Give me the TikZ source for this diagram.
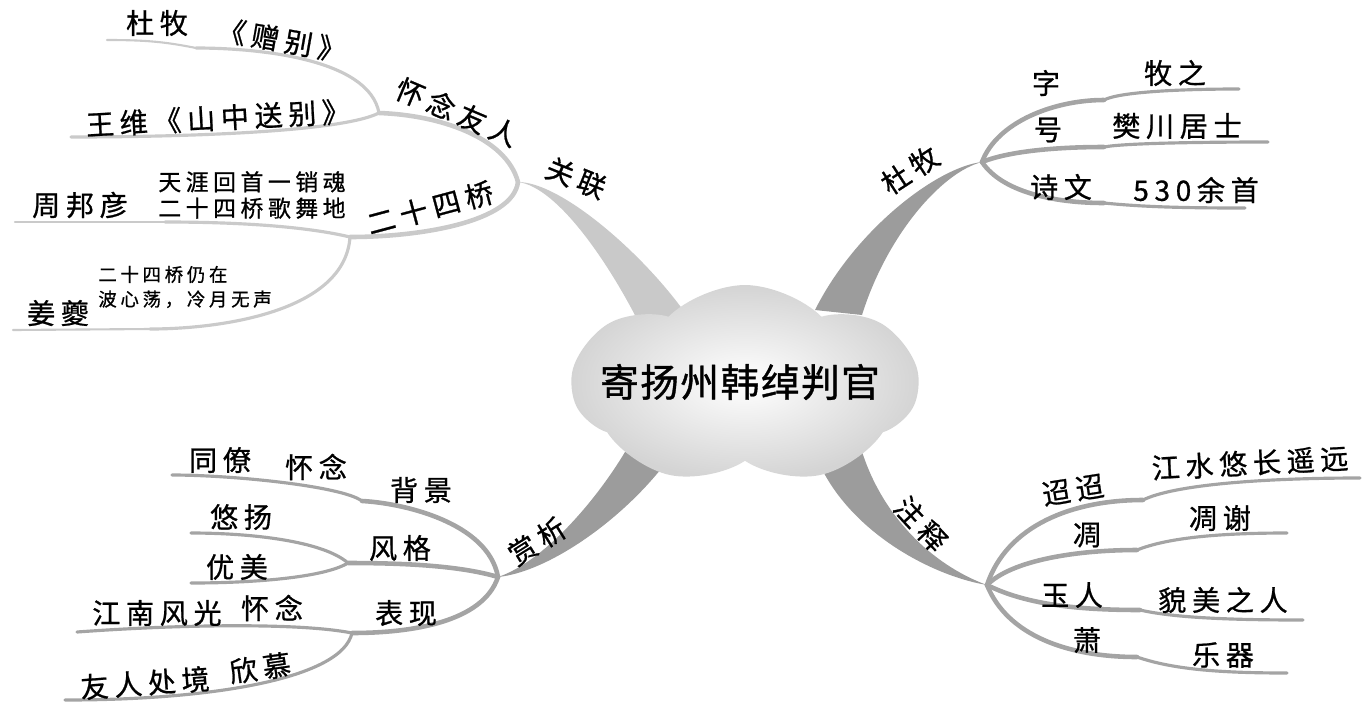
\documentclass[tikz,border=0pt]{standalone}
\usepackage{fontspec}
\setmainfont{Noto Sans CJK SC}[LetterSpace=20, FakeBold=0.8]
\newfontfamily\titlefont{Noto Sans CJK SC}[LetterSpace=4, FakeBold=1]
\usetikzlibrary{shapes.symbols}
\definecolor{paleline}{HTML}{CACACA}
\definecolor{midline}{HTML}{A4A4A4}
\definecolor{palearm}{HTML}{C9C9C9}
\definecolor{darkarm}{HTML}{9C9C9C}

\begin{document}
\begin{tikzpicture}[x=0.02cm, y=-0.02cm,
    every node/.style={font=\fontsize{16}{18}\selectfont, inner sep=0pt},
    small/.style={font=\fontsize{13}{15}\selectfont, align=center},
    tiny/.style={font=\fontsize{10.5}{14}\selectfont, align=left},
    twig/.style={draw=midline, line width=2.6pt, line cap=round},
    sprig/.style={draw=midline, line width=1.8pt, line cap=round},
    wisp/.style={draw=midline, line width=1.2pt, line cap=round},
    cloudbox/.style={shape=cloud, cloud puffs=7, cloud puff arc=90, aspect=1.8,
      minimum width=6.9cm, minimum height=4cm, shade, shading=radial,
      inner color=white, outer color=black!17},
    titletext/.style={font=\titlefont\fontsize{22}{24}\selectfont}]
  \useasboundingbox (0,0) rectangle (1363,704);
  \coordinate (G) at (518,182);
  \coordinate (H1) at (379,113);
  \coordinate (Z1) at (196,48);
  \coordinate (E1) at (107,40);
  \coordinate (E2) at (71,137);
  \coordinate (H2) at (350,237);
  \coordinate (K3) at (165,222);
  \coordinate (E3) at (15,222);
  \coordinate (K4) at (150,329);
  \coordinate (E4) at (13,330);
  \coordinate (D) at (982,162);
  \coordinate (K5) at (1104,100);
  \coordinate (E5) at (1239,89);
  \coordinate (K6) at (1104,147);
  \coordinate (E6) at (1268,142);
  \coordinate (K7) at (1104,203);
  \coordinate (E7) at (1245,208);
  \coordinate (S) at (498,577);
  \coordinate (K8) at (362,501);
  \coordinate (E8) at (172,475);
  \coordinate (F) at (348,563);
  \coordinate (E9) at (191,533);
  \coordinate (E10) at (191,583);
  \coordinate (B) at (352,633);
  \coordinate (E11) at (77,632);
  \coordinate (E12) at (65,700);
  \coordinate (N) at (987,585);
  \coordinate (K13) at (1143,500);
  \coordinate (E13) at (1360,478);
  \coordinate (K14) at (1137,550);
  \coordinate (E14) at (1287,533);
  \coordinate (K15) at (1140,610);
  \coordinate (E15) at (1303,620);
  \coordinate (K16) at (1137,657);
  \coordinate (E16) at (1287,673);

  \fill[palearm] (G) .. controls +(45,0) and +(-40,-60) .. (690,320)
    -- (640,325) .. controls +(-30,-60) and +(40,5) .. (G);
  \fill[darkarm] (D) .. controls +(-45,5) and +(40,-80) .. (815,310)
    -- (862,315) .. controls +(25,-80) and +(-40,10) .. (D);
  \fill[darkarm] (S) .. controls +(45,-15) and +(-30,50) .. (625,452)
    -- (668,460) .. controls +(-45,60) and +(50,-5) .. (S);
  \fill[darkarm] (812,445) .. controls +(25,80) and +(-60,-10) .. (N)
    .. controls +(-55,-20) and +(20,70) .. (860,445) -- cycle;

  \draw[twig, draw=paleline] (G) .. controls +(-12,-45) and +(60,2) .. (H1);
  \draw[sprig, draw=paleline] (H1) .. controls +(-10,-55) and +(60,0) .. (Z1);
  \draw[wisp, draw=paleline] (Z1) .. controls +(-30,-6) and +(40,0) .. (E1);
  \draw[sprig, draw=paleline] (H1) .. controls +(-40,20) and +(100,0) .. (E2);
  \draw[twig, draw=paleline] (G) .. controls +(-5,40) and +(70,0) .. (H2);
  \draw[sprig, draw=paleline] (H2) .. controls +(-50,-12) and +(60,0) .. (K3);
  \draw[wisp, draw=paleline] (K3) -- (E3);
  \draw[sprig, draw=paleline] (H2) .. controls +(-5,75) and +(70,0) .. (K4);
  \draw[wisp, draw=paleline] (K4) -- (E4);

  \draw[twig] (D) .. controls +(15,-40) and +(-50,0) .. (K5);
  \draw[sprig] (K5) .. controls +(15,-8) and +(-60,0) .. (E5);
  \draw[twig] (D) .. controls +(30,-12) and +(-40,0) .. (K6);
  \draw[sprig] (K6) .. controls +(20,-4) and +(-60,0) .. (E6);
  \draw[twig] (D) .. controls +(20,30) and +(-50,0) .. (K7);
  \draw[sprig] (K7) .. controls +(40,4) and +(-60,0) .. (E7);

  \draw[twig] (S) .. controls +(-10,-55) and +(40,2) .. (K8);
  \draw[sprig] (K8) .. controls +(-20,-15) and +(60,0) .. (E8);
  \draw[twig] (S) .. controls +(-40,-12) and +(50,0) .. (F);
  \draw[sprig] (F) .. controls +(-25,-22) and +(60,0) .. (E9);
  \draw[sprig] (F) .. controls +(-25,15) and +(60,0) .. (E10);
  \draw[twig] (S) .. controls +(-15,45) and +(60,0) .. (B);
  \draw[sprig] (B) .. controls +(-50,-10) and +(110,-8) .. (E11);
  \draw[sprig] (B) .. controls +(-10,45) and +(150,0) .. (E12);

  \draw[twig] (N) .. controls +(20,-60) and +(-70,0) .. (K13);
  \draw[sprig] (K13) .. controls +(30,-15) and +(-100,0) .. (E13);
  \draw[twig] (N) .. controls +(25,-25) and +(-60,0) .. (K14);
  \draw[sprig] (K14) .. controls +(30,-12) and +(-70,0) .. (E14);
  \draw[twig] (N) .. controls +(40,20) and +(-60,0) .. (K15);
  \draw[sprig] (K15) .. controls +(35,8) and +(-70,0) .. (E15);
  \draw[twig] (N) .. controls +(20,50) and +(-70,0) .. (K16);
  \draw[sprig] (K16) .. controls +(35,12) and +(-70,0) .. (E16);

  \node[cloudbox] (root) at (745,385) {};
  \node[titletext] (title) at (740,382) {寄扬州韩绰判官};

  \node[rotate=-22] (guanlian) at (576,178) {关联};
  \node[rotate=33] (dumu) at (910,170) {杜牧};
  \node[rotate=32] (shangxi) at (537,541) {赏析};
  \node[rotate=-47] (zhushi) at (921,524) {注释};

  \node[rotate=-23] (huainian) at (457,112) {怀念友人};
  \node (dm) at (157,23) {杜牧};
  \node[rotate=-10] (zengbie) at (282,40) {《赠别》};
  \node[rotate=3] (wangwei) at (218,118) {王维《山中送别》};
  \node[rotate=15] (qiao) at (430,208) {二十四桥};
  \node (zhou) at (80,205) {周邦彦};
  \node[small] (tianya) at (252,195) {天涯回首一销魂\\二十四桥歌舞地};
  \node (jiangkui) at (58,313) {姜夔};
  \node[tiny, anchor=west] (bozhong) at (98,287) {二十四桥仍在\\波心荡，冷月无声};

  \node (zi) at (1046,83) {字};
  \node (muzhi) at (1175,73) {牧之};
  \node (hao) at (1048,130) {号};
  \node (fanchuan) at (1177,126) {樊川居士};
  \node (shiwen) at (1061,187) {诗文};
  \node (yushou) at (1196,190) {530余首};

  \node (beijing) at (421,490) {背景};
  \node (tongliao) at (220,460) {同僚};
  \node (huai1) at (316,467) {怀念};
  \node (fengge) at (400,548) {风格};
  \node (youyang) at (241,517) {悠扬};
  \node (youmei) at (237,567) {优美};
  \node (biaoxian) at (406,613) {表现};
  \node (jiangnan) at (157,613) {江南风光};
  \node (huai2) at (272,608) {怀念};
  \node[rotate=4] (chujing) at (145,683) {友人处境};
  \node[rotate=8] (xinmu) at (260,668) {欣慕};

  \node[rotate=9] (tiaotiao) at (1073,490) {迢迢};
  \node[rotate=3] (jiangshui) at (1250,463) {江水悠长遥远};
  \node (diao) at (1087,535) {凋};
  \node (diaoxie) at (1220,518) {凋谢};
  \node (yuren) at (1072,595) {玉人};
  \node (maomei) at (1223,600) {貌美之人};
  \node (xiao) at (1087,640) {萧};
  \node (yueqi) at (1223,655) {乐器};
\end{tikzpicture}
\end{document}
